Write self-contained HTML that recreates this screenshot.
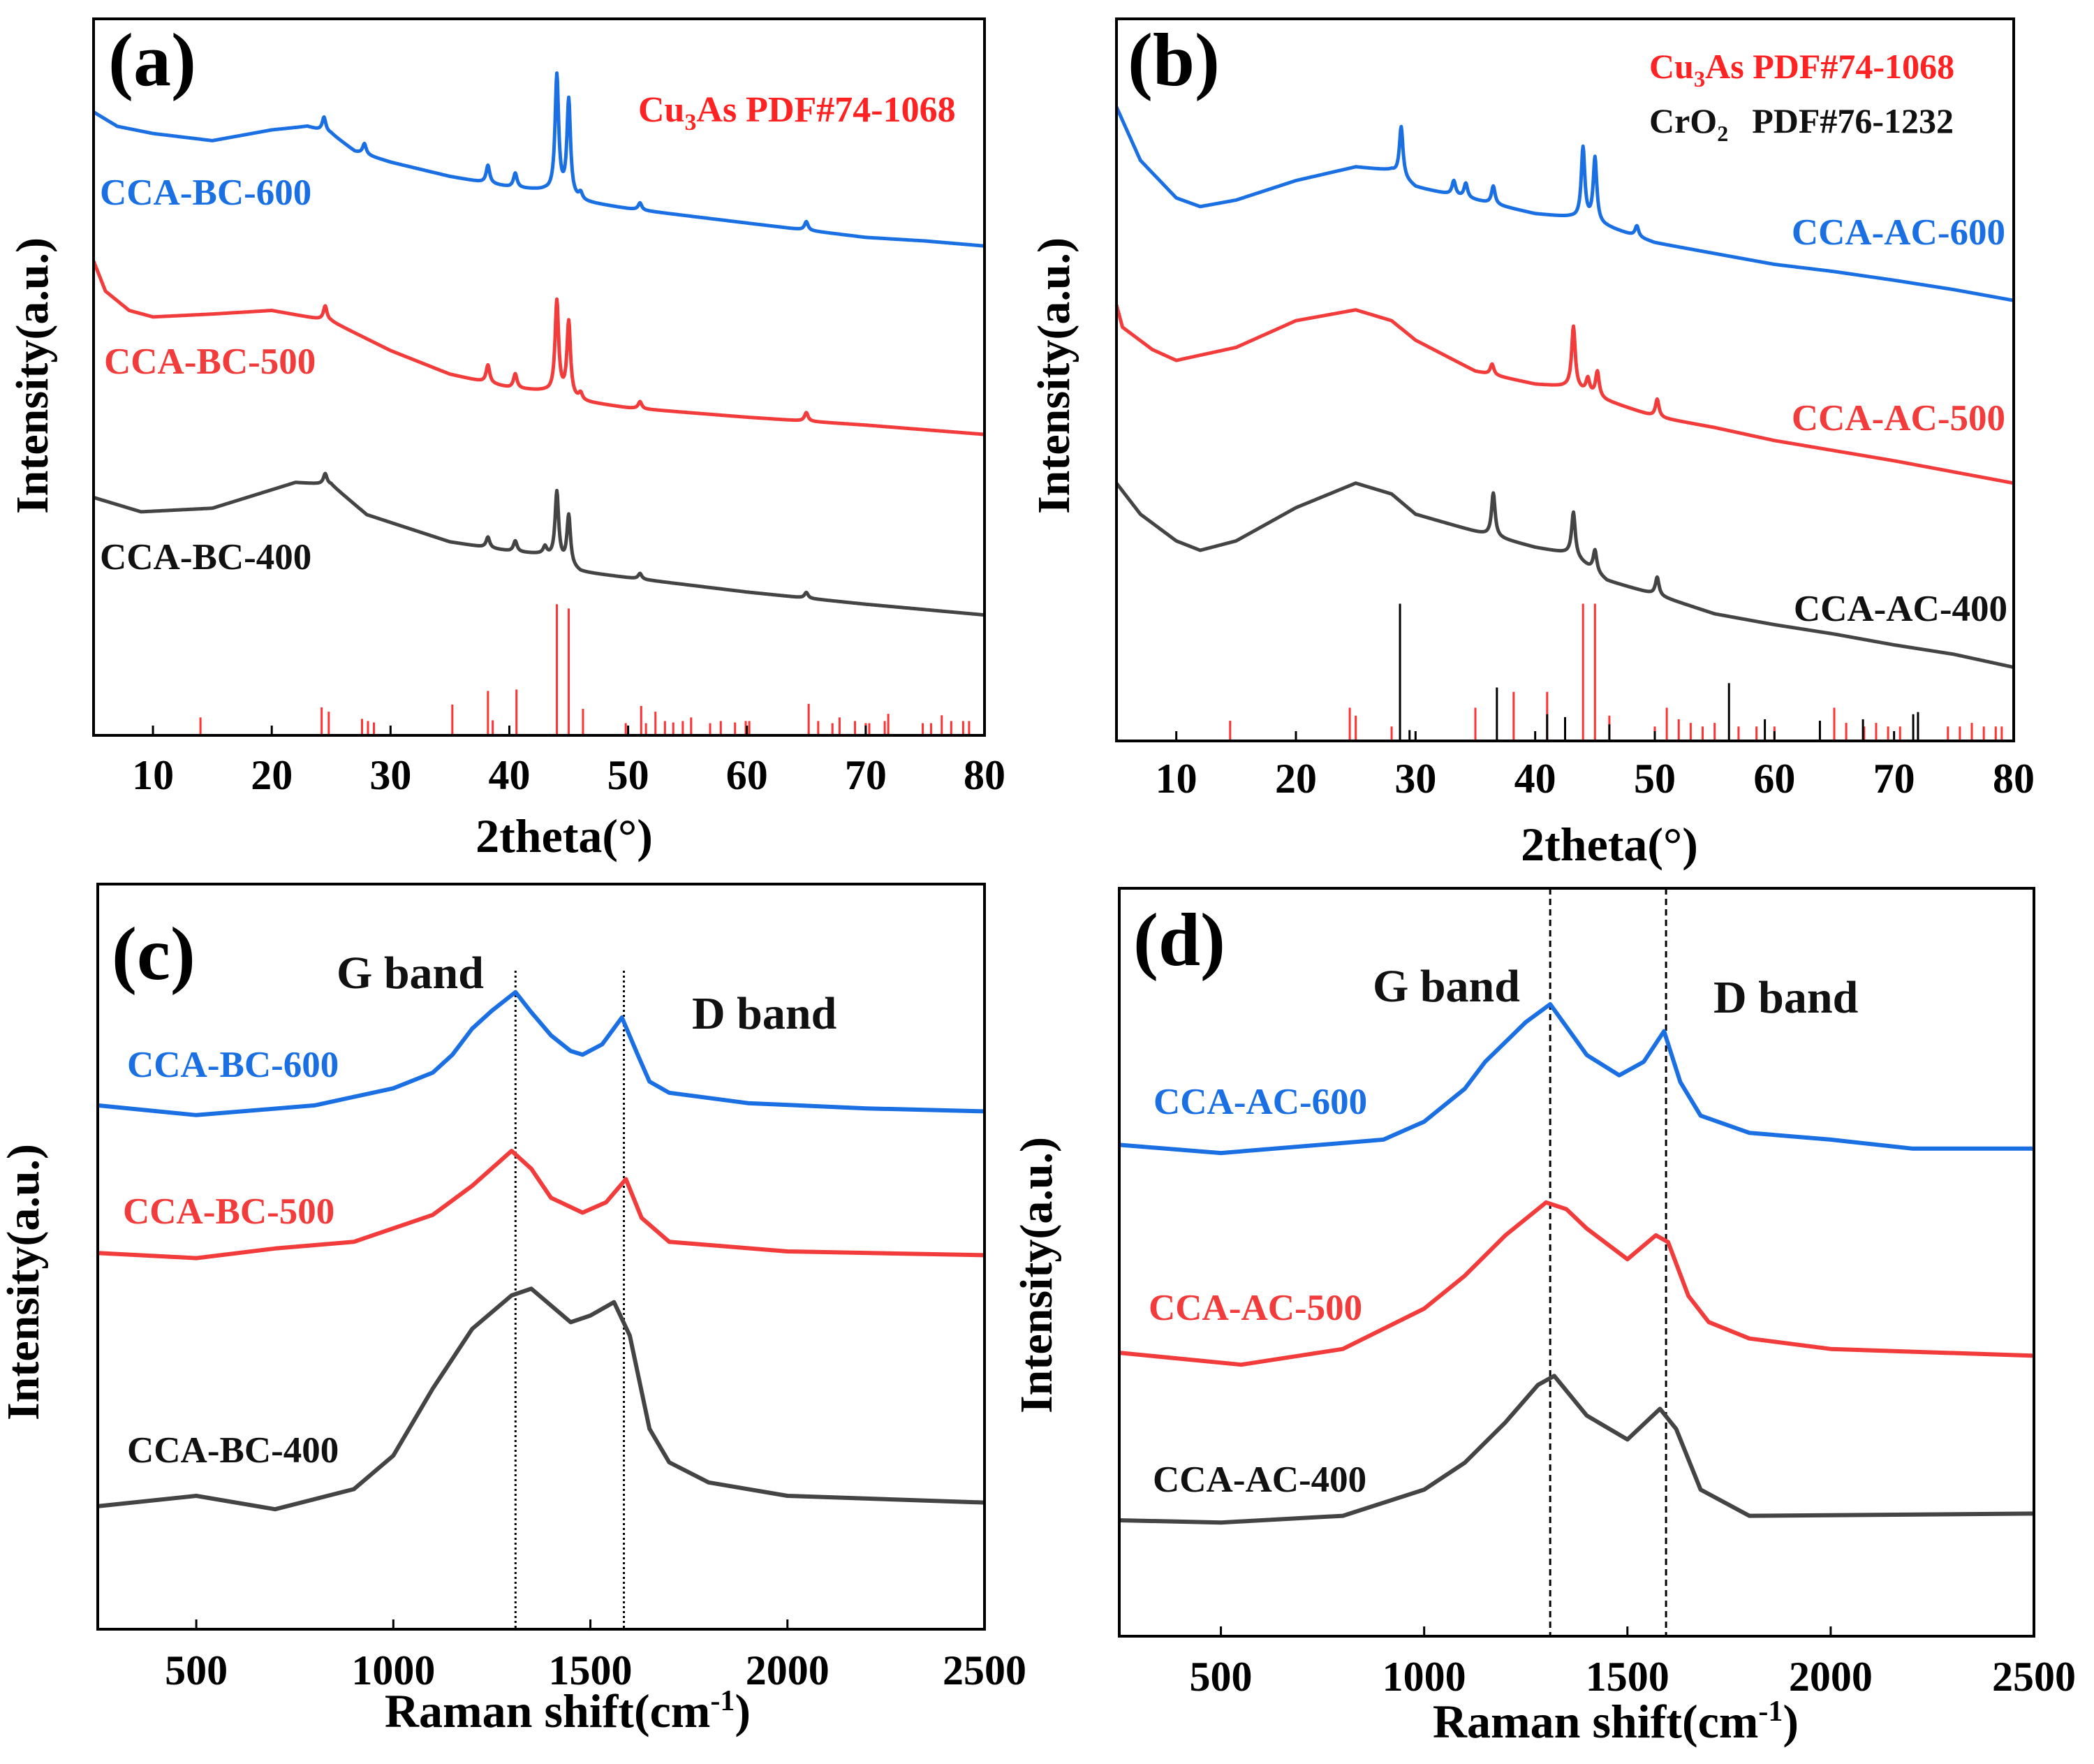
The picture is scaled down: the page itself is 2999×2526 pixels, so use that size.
<!DOCTYPE html>
<html><head><meta charset="utf-8"><style>
html,body{margin:0;padding:0;background:#fff}
svg{display:block;font-family:"Liberation Serif",serif;font-weight:bold}
</style></head><body>
<svg id="fig" width="2999" height="2526" viewBox="0 0 2999 2526"></svg>
<script>
// ---------- DATA ----------
const aBlueX=[5,7,10,15,20,23,25,27,30,35,40,43,46,50,55,60,65,70,75,80];
const aBlueY=[87,85,84,83,84.5,85,84,81.5,80,78,76.5,76,74.5,73.5,72.5,71.5,70.5,69.5,69,68.3];
const aBluePk=[24.4,27.8,38.2,40.5,44.0,45.0,46.0,51.0,65.0];
const aBlueH=[2,1.5,2.5,2,16.5,13.5,1,1,1.2];
const aRedX=[5,6,8,10,15,20,25,30,35,40,43,46,50,60,70,80];
const aRedY=[66.2,62,59.3,58.4,58.8,59.3,57.8,53.7,50.4,48.5,48,46.6,45.7,44.4,43.3,42];
const aRedPk=[24.5,38.2,40.5,44.0,45.0,46.0,51.0,65.0];
const aRedH=[2,2.5,2,13,10.5,1,1,1.2];
const aGrayX=[5,9,15,22,25,28,35,40,43,46,50,60,70,80];
const aGrayY=[33.2,31.2,31.7,35.3,35,30.8,27,25.7,25.2,22.8,22,20,18.3,16.8];
const aGrayPk=[24.5,38.2,40.5,43.0,44.0,45.0,51.0,65.0];
const aGrayH=[1.5,1.5,1.5,1,9.5,7,0.8,0.8];
const aStickPos=[14,24.2,24.8,27.6,28.1,28.6,35.2,38.2,38.6,40.6,44.0,45.0,46.2,49.8,51.1,51.5,52.3,53.1,53.8,54.6,55.3,56.9,57.8,59,59.9,60.2,65.2,66,67.2,67.8,69.1,70,70.3,71.6,71.9,74.8,75.5,76.4,77.2,78.2,78.7];
const aStickH=[2.5,3.9,3.3,2.3,2,1.8,4.3,6.2,2.1,6.4,18.3,17.7,3.7,1.7,4.1,1.7,3.3,2,1.8,2,2.5,1.7,2,1.8,2,2,4.4,2,1.7,2.5,2,1.7,1.7,2,3,1.7,1.7,2.8,2,2,2];
const bBlueX=[5,7,10,12,15,20,25,28,30,35,40,43,46,50,55,60,65,70,75,80];
const bBlueY=[87.8,80.4,75.2,74,74.9,77.6,79.5,79,76.7,74.9,73,72.5,71.2,69,67.5,66,65,63.8,62.5,61];
const bBluePk=[28.8,33.2,34.2,36.5,44.0,45.0,48.5];
const bBlueH=[7,2,2,2.5,10,9,1.5];
const bRedX=[5,5.5,8,10,15,20,25,28,30,35,40,43,46,50,55,60,70,80];
const bRedY=[60.4,57.3,54.2,52.7,54.5,58.2,59.7,58.2,55.5,51.2,49.4,49,47.1,44.9,43.4,41.6,38.8,35.7];
const bRedPk=[36.4,43.2,44.4,45.2,50.2];
const bRedH=[1.5,8.5,2,3.5,2.5];
const bGrayX=[5,7,10,12,15,20,25,28,30,35,40,43,46,50,55,60,65,70,75,80];
const bGrayY=[35.7,31.4,27.7,26.4,27.7,32.3,35.7,34.2,31.4,29,26.8,25.9,22.2,20.3,17.6,16.1,14.8,13.3,12,10.2];
const bGrayPk=[36.5,43.2,45.0,50.2];
const bGrayH=[6,6,3,2.5];
const bRedStickPos=[14.5,24.5,25,28,35,38.2,41,44,45,46.2,50,51,52,53,54,55,57,58.5,60,65,66,67.5,68.5,69.5,70.5,72,74.5,75.5,76.5,77.5,78.5,79];
const bRedStickH=[2.8,4.6,3.5,2,4.6,6.8,6.8,19,19,3.5,2,4.6,3,2.5,2,2.5,2,2,2,4.6,2.5,2,2.5,2,2,2.5,2,2,2.5,2,2,2];
const bBlkStickPos=[28.7,29.5,36.8,41,42.5,46.2,56.2,59.2,63.8,67.4,71.6,72];
const bBlkStickH=[19,1.5,7.4,3.7,3.3,2.3,8,3,2.8,3,3.7,4];
const cBlueX=[250,500,800,1000,1100,1150,1200,1250,1310,1350,1400,1450,1480,1530,1580,1620,1650,1700,1900,2200,2500];
const cBlueY=[70.3,69,70.3,72.6,74.7,77.1,80.6,83,85.5,82.8,79.7,77.6,77.1,78.5,82.1,77.1,73.5,72,70.6,69.9,69.5];
const cRedX=[250,500,700,900,1100,1200,1300,1350,1400,1480,1540,1590,1630,1700,2000,2500];
const cRedY=[50.5,49.8,51.1,52,55.6,59.5,64.2,61.8,57.9,55.9,57.3,60.4,55.2,52,50.7,50.2];
const cGrayX=[250,500,700,900,1000,1100,1200,1300,1350,1450,1500,1560,1600,1650,1700,1800,2000,2500];
const cGrayY=[16.5,17.9,16.1,18.8,23.3,32.3,40.3,44.8,45.7,41.2,42.1,43.9,39.4,26.9,22.4,19.7,17.9,17];
const dBlueX=[250,500,900,1000,1100,1150,1250,1310,1400,1480,1540,1590,1630,1680,1800,2000,2200,2500];
const dBlueY=[65.7,64.6,66.4,68.8,73.2,76.8,82.1,84.5,77.7,75,76.8,80.9,74.1,69.6,67.3,66.4,65.2,65.2];
const dRedX=[250,550,800,1000,1100,1200,1300,1350,1400,1500,1570,1600,1650,1700,1800,2000,2500];
const dRedY=[37.9,36.3,38.4,43.8,48.2,53.6,58,57.1,54.5,50.4,53.6,52.7,45.5,42,39.8,38.4,37.5];
const dGrayX=[250,500,800,1000,1100,1200,1280,1320,1400,1500,1580,1620,1680,1800,2500];
const dGrayY=[15.5,15.2,16.1,19.6,23.2,28.6,33.6,34.8,29.5,26.3,30.4,27.7,19.6,16.1,16.4];
const xrdTicks=[10,20,30,40,50,60,70,80];
const ramanTicks=[500,1000,1500,2000,2500];
const ramanBands=[1310,1585];
const ramanBandsD=[1310,1595];

// ---------- DRAW ----------
const NS="http://www.w3.org/2000/svg";
const svg=document.getElementById('fig');
function el(tag,attrs,parent){const e=document.createElementNS(NS,tag);for(const k in attrs)e.setAttribute(k,attrs[k]);(parent||svg).appendChild(e);return e;}
function txt(s,x,y,size,fill,anchor,parent){const t=el('text',{x:x,y:y,'font-size':size,fill:fill,'text-anchor':anchor||'start'},parent);t.textContent=s;return t;}
function mkPanel(name,L,T,R,B,x0,x1){
  const g=el('g',{});
  
  
  return {g,L,T,R,B,sx:v=>L+(v-x0)/(x1-x0)*(R-L),sy:v=>B-v/100*(B-T)};
}
function lin(xs,ys,x){for(let i=0;i<xs.length-1;i++){if(x<=xs[i+1]){const f=(x-xs[i])/(xs[i+1]-xs[i]);return ys[i]+f*(ys[i+1]-ys[i]);}}return ys[ys.length-1];}
function xrdLine(p,xs,ys,pk,ph,color,name){
  let d='';
  for(let x=5;x<=80.001;x+=0.05){let v=lin(xs,ys,x);for(let i=0;i<pk.length;i++){const w=0.18;v+=ph[i]/(1+((x-pk[i])/w)**2);}d+=(d?'L':'M')+p.sx(x).toFixed(1)+','+p.sy(v).toFixed(1);}
  const path=el('path',{d:d,fill:'none',stroke:color,'stroke-width':5,'stroke-linejoin':'round'},p.g);
  
  
}
function polyLine(p,xs,ys,color,name){
  let d='';for(let i=0;i<xs.length;i++)d+=(i?'L':'M')+p.sx(xs[i]).toFixed(1)+','+p.sy(ys[i]).toFixed(1);
  const path=el('path',{d:d,fill:'none',stroke:color,'stroke-width':6,'stroke-linejoin':'round'},p.g);
  
  
}
function sticks(p,pos,h,color,name){
  for(let i=0;i<pos.length;i++){
    const l=el('line',{x1:p.sx(pos[i]),x2:p.sx(pos[i]),y1:p.B,y2:p.sy(h[i]),stroke:color,'stroke-width':3},p.g);
    
    
  }
}
function frame(p,ticks,tickY,title,titleX,titleY,yTitleX,yTitleY,label){
  const r=el('rect',{x:p.L,y:p.T,width:p.R-p.L,height:p.B-p.T,fill:'none',stroke:'#000','stroke-width':4},p.g);
  
  
  for(const t of ticks){
    el('line',{x1:p.sx(t),x2:p.sx(t),y1:p.B,y2:p.B-14,stroke:'#000','stroke-width':3},p.g);
    const tl=txt(String(t),p.sx(t),tickY,60,'#000','middle',p.g);
    
    
  }
  const xt=txt(title[0],titleX,titleY,68,'#000','middle',p.g);
  if(title[1]){const s=el('tspan',{dy:-24,'font-size':42},xt);s.textContent=title[1];const s2=el('tspan',{dy:24},xt);s2.textContent=title[2];}
  
  
  const yt=txt('Intensity(a.u.)',0,0,66,'#000','middle',p.g);
  yt.setAttribute('transform',`translate(${yTitleX},${yTitleY}) rotate(-90)`);
  
  
  const pl=txt(label[0],label[1],label[2],108,'#000','start',p.g);
  
  
}
function lbl(p,s,x,y,color,size,anchor,name){const t=txt(s,x,y,size,color,anchor||'start',p.g);return t;}
function cuLabel(p,x,y,size,name){const t=txt('Cu',x,y,size,'#f22','start',p.g);const s=el('tspan',{dy:12,'font-size':size*0.65},t);s.textContent='3';const s2=el('tspan',{dy:-12},t);s2.textContent='As PDF#74-1068';}

const BLUE='#1a6fe3',RED='#f23c3c',GRAY='#444';
const LS=53;
// (a)
const pa=mkPanel('panel-a-xrd-bc',134,27,1410,1053,5,80);
sticks(pa,aStickPos,aStickH,'#f33','reference-stick-cu3as');
xrdLine(pa,aGrayX,aGrayY,aGrayPk,aGrayH,GRAY,'series-cca-bc-400');
xrdLine(pa,aRedX,aRedY,aRedPk,aRedH,RED,'series-cca-bc-500');
xrdLine(pa,aBlueX,aBlueY,aBluePk,aBlueH,BLUE,'series-cca-bc-600');
frame(pa,xrdTicks,1130,['2theta(°)'],808,1220,68,538,['(a)',155,122]);
lbl(pa,'CCA-BC-600',143,293,BLUE,LS,'start','label-cca-bc-600');
lbl(pa,'CCA-BC-500',149,535,RED,LS,'start','label-cca-bc-500');
lbl(pa,'CCA-BC-400',143,815,'#111',LS,'start','label-cca-bc-400');
cuLabel(pa,914,174,52,'legend-cu3as');
// (b)
const pb=mkPanel('panel-b-xrd-ac',1599,27,2884,1061,5,80);
sticks(pb,bRedStickPos,bRedStickH,'#f33','reference-stick-cu3as');
sticks(pb,bBlkStickPos,bBlkStickH,'#000','reference-stick-cro2');
xrdLine(pb,bGrayX,bGrayY,bGrayPk,bGrayH,GRAY,'series-cca-ac-400');
xrdLine(pb,bRedX,bRedY,bRedPk,bRedH,RED,'series-cca-ac-500');
xrdLine(pb,bBlueX,bBlueY,bBluePk,bBlueH,BLUE,'series-cca-ac-600');
frame(pb,xrdTicks,1135,['2theta(°)'],2305,1232,1531,538,['(b)',1615,122]);
cuLabel(pb,2362,112,50,'legend-cu3as');
const cr=txt('CrO',2362,190,50,'#111','start',pb.g);
{const s=el('tspan',{dy:12,'font-size':32},cr);s.textContent='2';const s2=el('tspan',{dy:-12,dx:34},cr);s2.textContent='PDF#76-1232';}


lbl(pb,'CCA-AC-600',2872,350,BLUE,LS,'end','label-cca-ac-600');
lbl(pb,'CCA-AC-500',2872,616,RED,LS,'end','label-cca-ac-500');
lbl(pb,'CCA-AC-400',2875,889,'#111',LS,'end','label-cca-ac-400');
// (c)
const pc=mkPanel('panel-c-raman-bc',140,1266,1410,2333,250,2500);
for(const b of ramanBands){const l=el('line',{x1:pc.sx(b),x2:pc.sx(b),y1:1390,y2:pc.B,stroke:'#000','stroke-width':3,'stroke-dasharray':'3,4'},pc.g);}
polyLine(pc,cGrayX,cGrayY,GRAY,'series-cca-bc-400');
polyLine(pc,cRedX,cRedY,RED,'series-cca-bc-500');
polyLine(pc,cBlueX,cBlueY,BLUE,'series-cca-bc-600');
frame(pc,ramanTicks,2412,['Raman shift(cm','-1',')'],813,2473,55,1836,['(c)',160,1402]);
lbl(pc,'G band',482,1415,'#111',66,'start','g-band-label');
lbl(pc,'D band',991,1473,'#111',66,'start','d-band-label');
lbl(pc,'CCA-BC-600',182,1542,BLUE,LS,'start','label-cca-bc-600');
lbl(pc,'CCA-BC-500',176,1752,RED,LS,'start','label-cca-bc-500');
lbl(pc,'CCA-BC-400',182,2094,'#111',LS,'start','label-cca-bc-400');
// (d)
const pd=mkPanel('panel-d-raman-ac',1603,1272,2913,2343,250,2500);
for(const b of ramanBandsD){const l=el('line',{x1:pd.sx(b),x2:pd.sx(b),y1:pd.T,y2:pd.B,stroke:'#000','stroke-width':3,'stroke-dasharray':'9,6'},pd.g);}
polyLine(pd,dGrayX,dGrayY,GRAY,'series-cca-ac-400');
polyLine(pd,dRedX,dRedY,RED,'series-cca-ac-500');
polyLine(pd,dBlueX,dBlueY,BLUE,'series-cca-ac-600');
frame(pd,ramanTicks,2421,['Raman shift(cm','-1',')'],2314,2488,1506,1826,['(d)',1623,1382]);
lbl(pd,'G band',1966,1434,'#111',66,'start','g-band-label');
lbl(pd,'D band',2454,1450,'#111',66,'start','d-band-label');
lbl(pd,'CCA-AC-600',1652,1595,BLUE,LS,'start','label-cca-ac-600');
lbl(pd,'CCA-AC-500',1645,1890,RED,LS,'start','label-cca-ac-500');
lbl(pd,'CCA-AC-400',1651,2136,'#111',LS,'start','label-cca-ac-400');
</script>
</body></html>
